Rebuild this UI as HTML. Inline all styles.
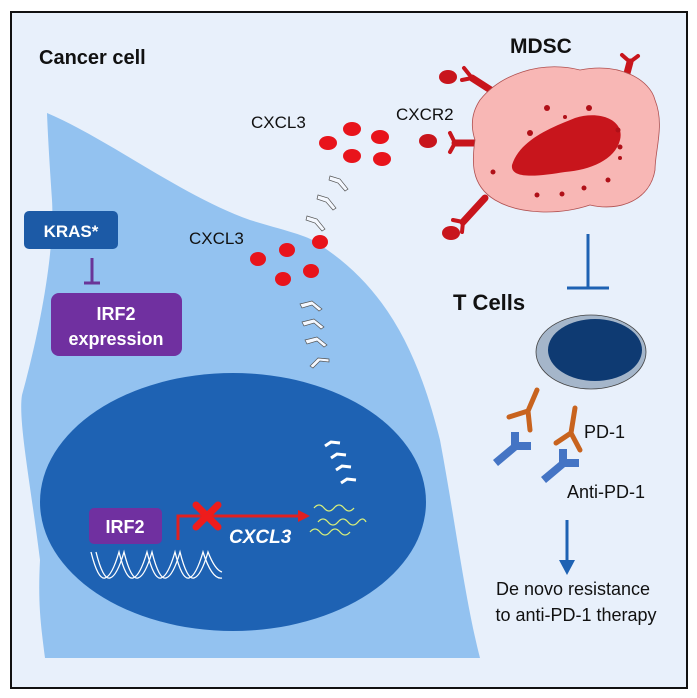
<!DOCTYPE html>
<html><head><meta charset="utf-8"><style>
html,body{margin:0;padding:0;background:#fff;}
svg{display:block;font-family:"Liberation Sans",Arial,sans-serif;}
</style></head><body>
<svg width="697" height="698" viewBox="0 0 697 698" xmlns="http://www.w3.org/2000/svg">
<rect x="0" y="0" width="697" height="698" fill="#fff"/>
<rect x="11" y="12" width="676" height="676" fill="#e8f0fb" stroke="#111" stroke-width="2"/>
<!-- cancer cell -->
<path d="M47,113 C110,140 180,195 250,220 C290,232 310,236 320,245 C390,290 420,360 440,440 C455,520 465,600 480,658 L45,658 C40,620 38,600 40,560 C30,480 18,420 22,395 C40,330 55,250 52,200 C50,170 48,140 47,113 Z" fill="#93c2f0"/>
<ellipse cx="233" cy="502" rx="193" ry="129" fill="#1e62b3"/>
<!-- labels -->
<text x="39" y="64" font-size="20" font-weight="bold" fill="#111">Cancer cell</text>
<text x="510" y="53" font-size="21" font-weight="bold" fill="#111">MDSC</text>
<text x="453" y="310" font-size="22" font-weight="bold" fill="#111">T Cells</text>
<text x="251" y="128" font-size="17" fill="#111">CXCL3</text>
<text x="189" y="244" font-size="17" fill="#111">CXCL3</text>
<text x="396" y="120" font-size="17" fill="#111">CXCR2</text>
<!-- KRAS -->
<rect x="24" y="211" width="94" height="38" rx="5" fill="#1c5aa6"/>
<text x="71" y="237" font-size="17" font-weight="bold" fill="#fff" text-anchor="middle">KRAS*</text>
<line x1="92" y1="258" x2="92" y2="283" stroke="#6a3598" stroke-width="3"/>
<line x1="84" y1="283" x2="100" y2="283" stroke="#6a3598" stroke-width="3"/>
<rect x="51" y="293" width="131" height="63" rx="8" fill="#7030a0"/>
<text x="116" y="320" font-size="18" font-weight="bold" fill="#fff" text-anchor="middle">IRF2</text>
<text x="116" y="345" font-size="18" font-weight="bold" fill="#fff" text-anchor="middle">expression</text>
<!-- nucleus contents -->
<rect x="89" y="508" width="73" height="36" rx="5" fill="#7030a0"/>
<text x="125" y="533" font-size="18" font-weight="bold" fill="#fff" text-anchor="middle">IRF2</text>
<g fill="none" stroke="#fff" stroke-width="1.3">
<path d="M91,552 Q98,580 105,578 Q112,576 119,552 Q126,580 133,578 Q140,576 147,552 Q154,580 161,578 Q168,576 175,552 Q182,580 189,578 Q196,576 203,552 Q212,580 222,578"/>
<path d="M96,552 Q103,580 110,578 Q117,576 124,552 Q131,580 138,578 Q145,576 152,552 Q159,580 166,578 Q173,576 180,552 Q187,580 194,578 Q201,576 208,552 Q215,570 222,572"/>
</g>
<path d="M178,540 L178,516 L300,516" fill="none" stroke="#e02020" stroke-width="3"/>
<polygon points="298,510 310,516 298,522" fill="#e02020"/>
<g stroke="#ee1c1c" stroke-width="7" stroke-linecap="round"><line x1="196" y1="505" x2="218" y2="527"/><line x1="218" y1="505" x2="196" y2="527"/></g>
<text x="229" y="543" font-size="19" font-weight="bold" font-style="italic" fill="#fff">CXCL3</text>
<g fill="none" stroke="#d9f07a" stroke-width="1.3">
<path d="M314,508 q5,-6 10,0 t10,0 t10,0 t10,0"/>
<path d="M318,522 q5,-6 10,0 t10,0 t10,0 t10,0 t8,0"/>
<path d="M310,532 q5,-6 10,0 t10,0 t10,0 t10,0"/>
</g>
<g fill="none" stroke="#fff" stroke-width="3">
<path d="M325,446 l6,-4 l9,1"/><path d="M331,458 l6,-4 l9,1"/><path d="M336,470 l6,-4 l9,1"/><path d="M341,483 l6,-4 l9,1"/>
</g>
<!-- chevrons -->
<g fill="#f4f8ff" stroke="#555" stroke-width="0.7">
<path d="M330,176 l10,3 l8,10 l-3,2 l-7,-8 l-9,-3z"/>
<path d="M318,195 l10,3 l8,10 l-3,2 l-7,-8 l-9,-3z"/>
<path d="M307,216 l10,3 l8,10 l-3,2 l-7,-8 l-9,-3z"/>
<path d="M300,304 l12,-3 l10,8 l-3,2 l-7,-6 l-10,3z"/>
<path d="M302,322 l12,-3 l10,8 l-3,2 l-7,-6 l-10,3z"/>
<path d="M305,340 l12,-3 l10,8 l-3,2 l-7,-6 l-10,3z"/>
<path d="M310,366 l8,-8 l11,1 l0,3 l-9,-1 l-7,7z"/>
</g>
<!-- red dots -->
<g fill="#e8141b">
<ellipse cx="352" cy="129" rx="9" ry="7"/><ellipse cx="380" cy="137" rx="9" ry="7"/><ellipse cx="328" cy="143" rx="9" ry="7"/><ellipse cx="352" cy="156" rx="9" ry="7"/><ellipse cx="382" cy="159" rx="9" ry="7"/>
<ellipse cx="320" cy="242" rx="8" ry="7"/><ellipse cx="287" cy="250" rx="8" ry="7"/><ellipse cx="258" cy="259" rx="8" ry="7"/><ellipse cx="311" cy="271" rx="8" ry="7"/><ellipse cx="283" cy="279" rx="8" ry="7"/>
</g>
<!-- MDSC receptors -->
<g fill="none" stroke="#c8151c" stroke-linecap="round">
<path d="M500,96 L472,78" stroke-width="7"/><path d="M472,78 L464,68 M472,78 L462,80" stroke-width="4"/>
<path d="M482,143 L455,143" stroke-width="7"/><path d="M455,143 L450,133 M455,143 L450,152" stroke-width="4"/>
<path d="M485,198 L463,222" stroke-width="7"/><path d="M463,222 L453,220 M463,222 L462,232" stroke-width="4"/>
<path d="M622,92 L630,62" stroke-width="7"/><path d="M630,62 L622,55 M630,62 L638,56" stroke-width="4"/>
</g>
<g fill="#c8151c">
<ellipse cx="448" cy="77" rx="9" ry="7"/><ellipse cx="428" cy="141" rx="9" ry="7"/><ellipse cx="451" cy="233" rx="9" ry="7"/>
</g>
<path d="M480,100 C500,75 540,60 580,70 C620,62 650,80 655,100 C665,125 655,150 655,170 C650,200 620,212 590,205 C560,215 520,215 495,200 C470,185 472,160 475,140 C470,125 472,112 480,100Z" fill="#f8b7b5" stroke="#b05050" stroke-width="0.8"/>
<path d="M512,165 C520,140 550,128 575,118 C600,110 625,120 620,140 C615,160 590,170 565,172 C540,176 510,180 512,165Z" fill="#c8151c"/>
<g fill="#b01018"><circle cx="547" cy="108" r="3"/><circle cx="589" cy="108" r="3"/><circle cx="565" cy="117" r="2"/><circle cx="530" cy="133" r="3"/><circle cx="618" cy="130" r="2.5"/><circle cx="620" cy="147" r="2.5"/><circle cx="493" cy="172" r="2.5"/><circle cx="537" cy="195" r="2.5"/><circle cx="562" cy="194" r="2.5"/><circle cx="584" cy="188" r="2.5"/><circle cx="608" cy="180" r="2.5"/><circle cx="620" cy="158" r="2"/></g>
<!-- inhibition to T cells -->
<line x1="588" y1="234" x2="588" y2="288" stroke="#1e62b3" stroke-width="3"/>
<line x1="567" y1="288" x2="609" y2="288" stroke="#1e62b3" stroke-width="3"/>
<!-- T cell -->
<ellipse cx="591" cy="352" rx="55" ry="37" fill="#a5b6ca" stroke="#444" stroke-width="0.8"/>
<ellipse cx="595" cy="350" rx="47" ry="31" fill="#0e3a72"/>
<!-- PD-1 receptors -->
<g fill="none" stroke="#c8631e" stroke-width="5" stroke-linecap="round">
<path d="M537,390 L528,411 M528,411 L509,417 M528,411 L530,430"/>
<path d="M575,408 L571,433 M571,433 L556,443 M571,433 L580,450"/>
</g>
<g fill="#4474c4">
<path d="M511,432 h8 v10 h12 v8 h-14 l-19,16 l-5,-6 l18,-15z"/>
<path d="M559,449 h8 v10 h12 v8 h-14 l-19,16 l-5,-6 l18,-15z"/>
</g>
<text x="584" y="438" font-size="18" fill="#111">PD-1</text>
<text x="567" y="498" font-size="18" fill="#111">Anti-PD-1</text>
<line x1="567" y1="520" x2="567" y2="563" stroke="#1e62b3" stroke-width="3"/>
<polygon points="559,560 575,560 567,575" fill="#1e62b3"/>
<text x="573" y="595" font-size="18" fill="#111" text-anchor="middle">De novo resistance</text>
<text x="576" y="621" font-size="18" fill="#111" text-anchor="middle">to anti-PD-1 therapy</text>
</svg>
</body></html>
